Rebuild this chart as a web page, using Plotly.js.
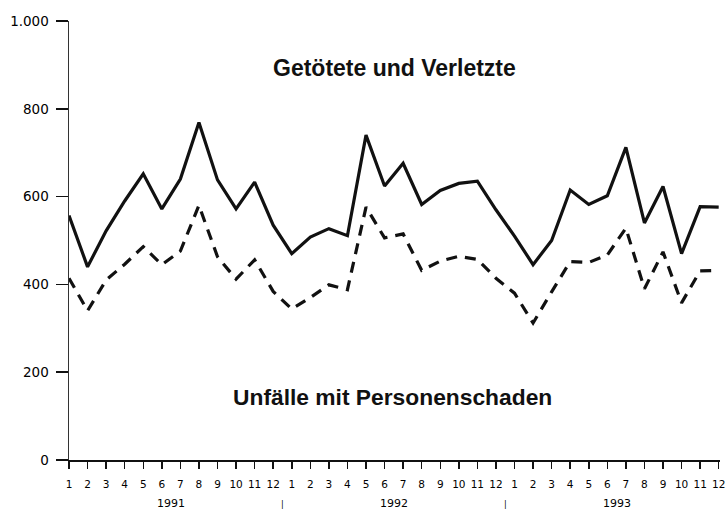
<!DOCTYPE html>
<html>
<head>
<meta charset="utf-8">
<script src="https://cdn.plot.ly/plotly-3.0.1.min.js"></script>
<style>
html,body{margin:0;padding:0;background:#fff;}
#chart{width:726px;height:510px;}
</style>
</head>
<body>
<div id="chart"></div>
<script>
// ---- data ----
var years = ["1991", "1992", "1993"];
var monthLabels = ["1","2","3","4","5","6","7","8","9","10","11","12"];
var getoeteteUndVerletzte = [557, 440, 522, 590, 652, 572, 640, 769, 638, 572, 633, 535,
                             470, 508, 527, 511, 740, 624, 676, 582, 614, 630, 635, 570,
                             510, 445, 500, 615, 582, 602, 712, 540, 623, 470, 577, 576];
var unfaelleMitPersonenschaden = [414, 340, 410, 446, 486, 445, 476, 580, 463, 412, 456, 384,
                                  344, 370, 399, 388, 576, 506, 515, 432, 453, 464, 457, 414,
                                  380, 312, 383, 452, 450, 467, 528, 390, 474, 358, 431, 432];
var yTickVals = [0, 200, 400, 600, 800, 1000];
var yTickLabels = ["0", "200", "400", "600", "800", "1.000"];
var seriesTitles = ["Getötete und Verletzte", "Unfälle mit Personenschaden"];

// ---- derived ----
var xIdx = [], xTickText = [];
years.forEach(function (yr, yi) {
  monthLabels.forEach(function (m, mi) {
    xIdx.push(yi * monthLabels.length + mi + 1);
    xTickText.push(m);
  });
});

var ink = "#111";
var tickFont = {family: "DejaVu Sans, Arial, sans-serif", size: 10.5, color: "#000"};

var traces = [
  {x: xIdx, y: getoeteteUndVerletzte, type: "scatter", mode: "lines",
   line: {color: ink, width: 3.2}, hoverinfo: "skip"},
  {x: xIdx, y: unfaelleMitPersonenschaden, type: "scatter", mode: "lines",
   line: {color: ink, width: 3.2, dash: "11px,8px"}, hoverinfo: "skip"}
];

var annotations = [];
years.forEach(function (yr, yi) {
  var n = monthLabels.length;
  annotations.push({xref: "x", yref: "paper", x: yi * n + (n + 1) / 2, y: 0,
    yanchor: "middle", yshift: -43, text: yr, showarrow: false,
    font: {family: "DejaVu Sans, Arial, sans-serif", size: 11, color: "#000"}});
  if (yi > 0) {
    annotations.push({xref: "x", yref: "paper", x: yi * n + 0.5, y: 0,
      yanchor: "middle", yshift: -44, text: "|", showarrow: false,
      font: {family: "DejaVu Sans, Arial, sans-serif", size: 8, color: "#000"}});
  }
});
annotations.push({xref: "paper", yref: "paper", x: 0.5, y: 0.893, yanchor: "middle",
  text: "<b>" + seriesTitles[0] + "</b>", showarrow: false,
  font: {family: "Liberation Sans, Arial, sans-serif", size: 23, color: ink}});
annotations.push({xref: "paper", yref: "paper", x: 0.497, y: 0.143, yanchor: "middle",
  text: "<b>" + seriesTitles[1] + "</b>", showarrow: false,
  font: {family: "Liberation Sans, Arial, sans-serif", size: 22.8, color: ink}});

var layout = {
  width: 726, height: 510,
  margin: {l: 69, r: 6, t: 21, b: 50},
  paper_bgcolor: "#fff", plot_bgcolor: "#fff",
  showlegend: false,
  xaxis: {range: [1, 36.07], showgrid: false, zeroline: false,
    showline: true, linecolor: ink, linewidth: 2,
    tickmode: "array", tickvals: xIdx, ticktext: xTickText,
    ticks: "outside", ticklen: 7, tickwidth: 1.5, tickcolor: ink,
    ticklabelstandoff: 6, tickfont: tickFont, fixedrange: true},
  yaxis: {range: [0, 1000], showgrid: false, zeroline: false,
    showline: true, linecolor: "#333", linewidth: 1.5,
    tickmode: "array", tickvals: yTickVals, ticktext: yTickLabels,
    ticks: "outside", ticklen: 12, tickwidth: 1.5, tickcolor: ink,
    ticklabelstandoff: 4,
    tickfont: {family: "DejaVu Sans, Arial, sans-serif", size: 13.5, color: "#000"},
    fixedrange: true},
  annotations: annotations
};

Plotly.newPlot("chart", traces, layout, {displayModeBar: false, staticPlot: true});
</script>
</body>
</html>
